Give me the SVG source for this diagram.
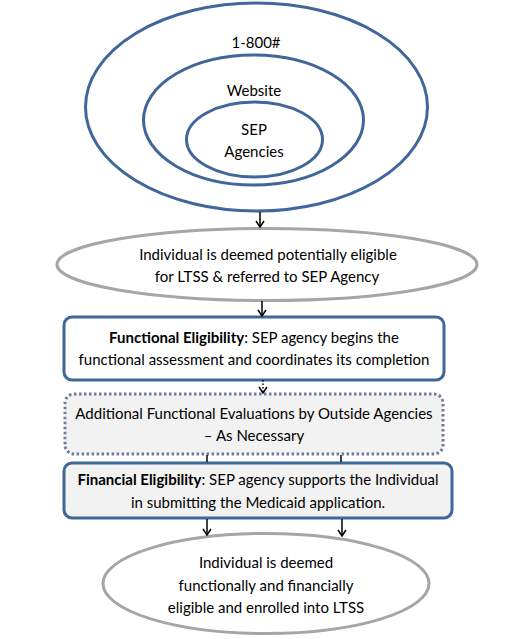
<svg xmlns="http://www.w3.org/2000/svg" width="506" height="639" viewBox="0 0 506 639">
<defs>
<style>
text{font-family:Lato,"Liberation Sans",sans-serif;font-size:15px;fill:#000;text-anchor:middle}
.b{font-weight:bold}
.blue{fill:none;stroke:#41669A;stroke-width:3}
.grey{fill:#fff;stroke:#A6A6A6;stroke-width:3}
.conn{stroke:#000;stroke-width:1.5;fill:none}
</style>
<marker id="arr" viewBox="0 0 10 10" refX="9" refY="5" markerWidth="10" markerHeight="10" markerUnits="userSpaceOnUse" orient="auto">
<path d="M3,1 L9,5 L3,9" fill="none" stroke="#000" stroke-width="1.5"/>
</marker>
</defs>
<rect width="506" height="639" fill="#fff"/>
<g id="outer"><ellipse class="blue" cx="256.5" cy="107" rx="171" ry="104"/><text x="256" y="48">1-800#</text></g>
<g id="website"><ellipse class="blue" cx="253.5" cy="120" rx="110" ry="65"/><text x="254" y="96">Website</text></g>
<g id="sep"><ellipse class="blue" cx="254.5" cy="139.5" rx="68" ry="37.5"/><text x="254" y="135">SEP</text><text x="254" y="157">Agencies</text></g>
<g id="deemed1"><ellipse class="grey" cx="267" cy="264.5" rx="210" ry="36"/><text x="268" y="260">Individual is deemed potentially eligible</text><text x="267" y="282">for LTSS &amp; referred to SEP Agency</text></g>
<g id="functional"><rect x="64" y="317" width="380" height="63" rx="8" fill="#fff" stroke="#41669A" stroke-width="3"/><text x="254" y="343"><tspan class="b">Functional Eligibility</tspan>: SEP agency begins the</text><text x="254" y="365">functional assessment and coordinates its completion</text></g>
<g id="additional"><rect x="65" y="394" width="378" height="60" rx="9" fill="#F2F2F2" stroke="#6F7B9A" stroke-width="3" stroke-dasharray="2.5 2.5"/><text x="254" y="419">Additional Functional Evaluations by Outside Agencies</text><text x="254" y="441">– As Necessary</text></g>
<g id="financial"><rect x="64" y="463" width="388" height="55" rx="8" fill="#F2F2F2" stroke="#41669A" stroke-width="3"/><text x="258" y="485"><tspan class="b">Financial Eligibility</tspan>: SEP agency supports the Individual</text><text x="258" y="508">in submitting the Medicaid application.</text></g>
<g id="deemed2"><ellipse class="grey" cx="266" cy="583.5" rx="163" ry="50"/><text x="266" y="568">Individual is deemed</text><text x="266" y="591">functionally and financially</text><text x="266" y="613">eligible and enrolled into LTSS</text></g>
<g id="connectors">
<line class="conn" x1="260" y1="212" x2="260" y2="227" marker-end="url(#arr)"/>
<line class="conn" x1="262" y1="301" x2="262" y2="316" marker-end="url(#arr)"/>
<line class="conn" x1="263" y1="380" x2="263" y2="393" stroke-dasharray="1.5 2" marker-end="url(#arr)"/>
<line class="conn" x1="207" y1="455" x2="207" y2="462"/>
<line class="conn" x1="341" y1="455" x2="341" y2="462"/>
<line class="conn" x1="207" y1="519" x2="207" y2="535" marker-end="url(#arr)"/>
<line class="conn" x1="342" y1="519" x2="342" y2="536" marker-end="url(#arr)"/>
</g>
</svg>
